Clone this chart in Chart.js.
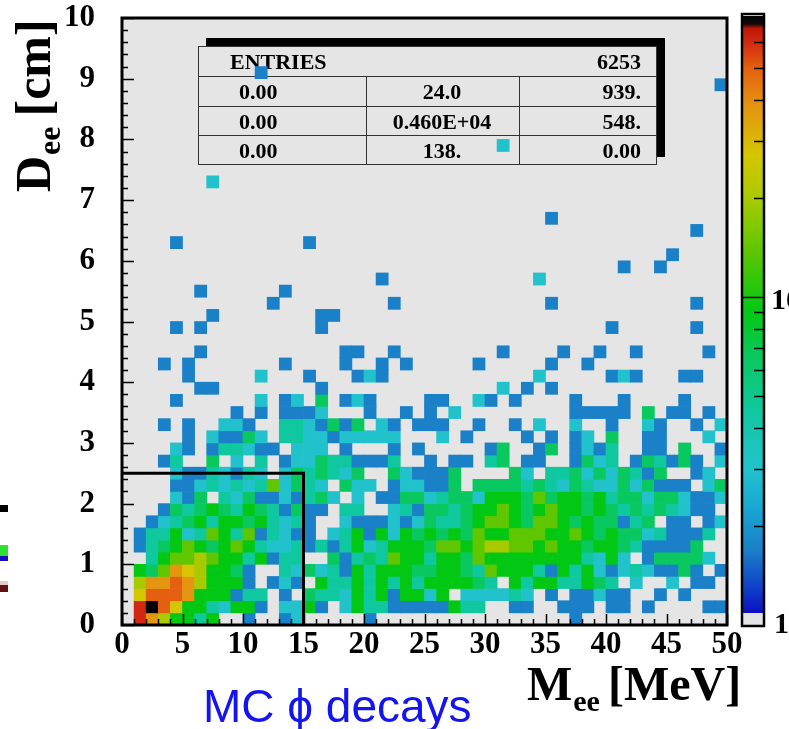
<!DOCTYPE html>
<html>
<head>
<meta charset="utf-8">
<script src="https://cdn.jsdelivr.net/npm/chart.js@4.4.1/dist/chart.umd.min.js"></script>
<style>html,body{margin:0;padding:0;background:#fff;overflow:hidden}</style>
</head>
<body>
<canvas id="c" width="789" height="729"></canvas>
<script>
// ---------------- DATA ----------------
// M_ee bin centres (MeV), 1 MeV bins
const massBins = [0.5,1.5,2.5,3.5,4.5,5.5,6.5,7.5,8.5,9.5,10.5,11.5,12.5,13.5,14.5,15.5,16.5,17.5,18.5,19.5,
  20.5,21.5,22.5,23.5,24.5,25.5,26.5,27.5,28.5,29.5,30.5,31.5,32.5,33.5,34.5,35.5,36.5,37.5,38.5,39.5,
  40.5,41.5,42.5,43.5,44.5,45.5,46.5,47.5,48.5,49.5];
// D_ee bin centres (cm), 0.2 cm bins
const distBins = [0.1,0.3,0.5,0.7,0.9,1.1,1.3,1.5,1.7,1.9,2.1,2.3,2.5,2.7,2.9,3.1,3.3,3.5,3.7,3.9,
  4.1,4.3,4.5,4.7,4.9,5.1,5.3,5.5,5.7,5.9,6.1,6.3,6.5,6.7,6.9,7.1,7.3,7.5,7.7,7.9,
  8.1,8.3,8.5,8.7,8.9,9.1,9.3,9.5,9.7,9.9];
const xTickValues = [0,5,10,15,20,25,30,35,40,45,50];
const xTickLabels = ["0","5","10","15","20","25","30","35","40","45","50"];
const yTickValues = [0,1,2,3,4,5,6,7,8,9,10];
const yTickLabels = ["0","1","2","3","4","5","6","7","8","9","10"];
const zRange = [1, 72];            // colour (z) axis, log scale
const zTickLabels = ["1","10"];
const cutBox = [15, 2.5];          // selection: M_ee < 15 MeV, D_ee < 2.5 cm
const statsRows = [
  ["ENTRIES", "", "6253"],
  ["0.00", "24.0", "939."],
  ["0.00", "0.460E+04", "548."],
  ["0.00", "138.", "0.00"]
];
// cell contents, one row per D_ee bin (bottom first), 50 M_ee bins per row
const counts = [
[0,60,38,20,9,9,4.5,9,0,0, 1.7,0,0,1.7,3,0,0,0,0,0, 1.7,0,0,0,0,0,0,0,0,0, 0,0,0,0,0,0,0,1.7,0,0, 0,0,0,0,0,0,0,0,0,0],
[0,60,72,50,27,9,9,4.5,3,9, 9,1.7,0,3,3,9,1.7,0,3,9, 4.5,4.5,1.7,1.7,1.7,1.7,1.7,9,4.5,4.5, 0,0,1.7,1.7,0,0,1.7,1.7,1.7,0, 1.7,1.7,0,1.7,0,0,0,0,1.7,1.7],
[0,27,50,50,50,38,9,9,9,1.7, 4.5,4.5,0,1.7,0,6.5,4.5,4.5,3,9, 4.5,9,1.7,9,9,3,9,0,3,3, 3,3,4.5,3,0,1.7,0,1.7,1.7,3, 1.7,1.7,0,0,1.7,0,1.7,0,0,0],
[0,20,38,38,50,38,20,9,9,9, 1.7,0,1.7,3,1.7,0,9,4.5,4.5,9, 4.5,9,4.5,9,4.5,9,9,9,9,6.5, 4.5,0,9,4.5,9,9,4.5,4.5,9,6.5, 4.5,0,3,0,0,3,0,1.7,1.7,0],
[0,9,6.5,14,38,27,20,9,9,6.5, 1.7,0,0,4.5,3,6.5,3,4.5,1.7,9, 4.5,9,9,9,6.5,6.5,9,9,6.5,4.5, 14,9,9,9,4.5,1.7,9,4.5,9,3, 1.7,3,4.5,3,1.7,1.7,6.5,1.7,0,1.7],
[0,0,4.5,9,14,14,20,14,9,9, 4.5,9,1.7,4.5,4.5,0,0,6.5,1.7,4.5, 6.5,4.5,14,9,9,4.5,9,9,6.5,14, 9,9,9,9,9,9,9,9,4.5,3, 9,3,0,1.7,6.5,6.5,6.5,6.5,3,0],
[0,1.7,4.5,6.5,9,14,9,6.5,9,14, 9,4.5,3,3,4.5,1.7,4.5,1.7,4.5,9, 3,4.5,9,9,9,6.5,14,14,9,14, 20,20,14,14,9,14,9,9,6.5,9, 9,6.5,4.5,1.7,1.7,1.7,1.7,6.5,0,0],
[0,1.7,4.5,4.5,9,3,4.5,14,9,4.5, 14,1.7,4.5,3,1.7,1.7,0,3,4.5,9, 1.7,9,3,9,6.5,9,6.5,9,6.5,14, 9,9,14,14,14,9,9,14,9,6.5, 9,6.5,6.5,3,4.5,1.7,1.7,1.7,4.5,0],
[0,0,1.7,3,4.5,6.5,9,4.5,9,9, 6.5,9,4.5,3,4.5,1.7,0,0,3,1.7, 1.7,1.7,3,1.7,3,6.5,4.5,4.5,6.5,9, 14,14,9,6.5,14,14,9,6.5,9,6.5, 6.5,1.7,4.5,6.5,0,1.7,1.7,0,1.7,3],
[0,0,0,1.7,6.5,4.5,6.5,9,6.5,4.5, 9,6.5,4.5,1.7,6.5,1.7,1.7,0,4.5,4.5, 0,0,3,4.5,1.7,6.5,6.5,4.5,6.5,9, 9,14,9,6.5,9,14,9,9,6.5,9, 6.5,4.5,6.5,4.5,6.5,4.5,3,1.7,1.7,0],
[0,0,0,0,3,1.7,6.5,0,4.5,3, 6.5,1.7,1.7,3,1.7,4.5,6.5,3,0,3, 0,1.7,1.7,6.5,6.5,3,4.5,6.5,6.5,3, 9,9,9,6.5,14,6.5,9,9,6.5,9, 4.5,6.5,6.5,3,6.5,6.5,3,1.7,1.7,3],
[0,0,0,0,1.7,1.7,3,4.5,3,4.5, 3,4.5,14,3,6.5,4.5,3,0,6.5,3, 3,0,1.7,3,3,1.7,1.7,6.5,0,6.5, 6.5,6.5,6.5,4.5,6.5,4.5,3,6.5,4.5,3, 3,6.5,3,6.5,1.7,1.7,1.7,0,3,6.5],
[0,0,0,0,3,1.7,1.7,4.5,3,1.7, 4.5,3,0,3,6.5,4.5,6.5,4.5,3,6.5, 0,0,6.5,3,1.7,1.7,1.7,6.5,0,0, 0,0,6.5,3,0,4.5,4.5,6.5,3,6.5, 3,6.5,4.5,1.7,6.5,0,0,1.7,3,0],
[0,0,0,1.7,4.5,0,0,6.5,0,3, 0,4.5,0,1.7,3,3,6.5,4.5,4.5,1.7, 1.7,1.7,4.5,0,0,1.7,0,1.7,1.7,0, 4.5,6.5,0,1.7,1.7,0,0,1.7,6.5,3, 4.5,0,1.7,6.5,4.5,1.7,6.5,1.7,0,3],
[0,0,0,0,3,1.7,0,1.7,4.5,4.5, 3,1.7,1.7,0,3,3,3,0,1.7,0, 0,0,1.7,0,1.7,0,0,0,0,0, 1.7,6.5,0,0,1.7,6.5,0,1.7,3,1.7, 4.5,0,0,1.7,1.7,0,6.5,0,0,1.7],
[0,0,0,0,0,1.7,0,3,1.7,1.7, 6.5,3,0,4.5,4.5,3,3,1.7,3,3, 3,3,3,0,0,0,3,0,1.7,0, 0,0,0,1.7,0,1.7,0,1.7,3,0, 6.5,0,0,1.7,1.7,0,0,0,3,0],
[0,0,0,1.7,0,1.7,0,0,3,3, 1.7,0,0,4.5,4.5,3,1.7,6.5,1.7,6.5, 0,3,1.7,0,1.7,1.7,1.7,0,0,1.7, 0,0,1.7,0,3,0,0,3,0,0, 1.7,0,0,3,1.7,0,0,1.7,0,3],
[0,0,0,0,0,0,0,0,0,1.7, 0,1.7,0,1.7,1.7,1.7,3,0,0,0, 1.7,0,0,1.7,0,1.7,0,3,0,0, 0,0,0,0,0,0,0,1.7,1.7,1.7, 1.7,1.7,0,6.5,0,1.7,1.7,0,1.7,0],
[0,0,0,0,1.7,0,0,0,0,0, 0,3,0,1.7,3,0,6.5,0,1.7,3, 1.7,0,0,0,0,1.7,1.7,0,0,3, 1.7,0,1.7,0,0,0,0,1.7,0,0, 0,1.7,0,0,0,0,1.7,0,0,0],
[0,0,0,0,0,0,1.7,1.7,0,0, 0,0,0,0,0,0,1.7,0,0,0, 0,0,0,0,0,0,0,0,0,0, 0,3,0,1.7,0,1.7,0,0,0,0, 0,0,0,0,0,0,0,0,0,0],
[0,0,0,0,0,1.7,0,0,0,0, 0,3,0,0,0,1.7,0,0,0,1.7, 3,1.7,0,0,0,0,0,0,0,0, 0,0,0,0,3,0,0,0,0,0, 1.7,3,1.7,0,0,0,1.7,1.7,0,0],
[0,0,0,1.7,0,1.7,0,0,0,0, 0,0,0,1.7,0,0,0,0,1.7,0, 0,1.7,0,1.7,0,0,0,0,0,1.7, 0,0,0,0,0,1.7,0,0,1.7,0, 0,0,0,0,0,0,0,0,0,0],
[0,0,0,0,0,0,1.7,0,0,0, 0,0,0,0,0,0,0,0,1.7,1.7, 0,0,1.7,0,0,0,0,0,0,0, 0,1.7,0,0,0,0,1.7,0,0,1.7, 0,0,1.7,0,0,0,0,0,1.7,0],
[0,0,0,0,0,0,0,0,0,0, 0,0,0,0,0,0,0,0,0,0, 0,0,0,0,0,0,0,0,0,0, 0,0,0,0,0,0,0,0,0,0, 0,0,0,0,0,0,0,0,0,0],
[0,0,0,0,1.7,0,1.7,0,0,0, 0,0,0,0,0,0,1.7,0,0,0, 0,0,0,0,0,0,0,0,0,0, 0,0,0,0,0,0,0,0,0,0, 1.7,0,0,0,0,0,0,1.7,0,0],
[0,0,0,0,0,0,0,1.7,0,0, 0,0,0,0,0,0,1.7,1.7,0,0, 0,0,0,0,0,0,0,0,0,0, 0,0,0,0,0,0,0,0,0,0, 0,0,0,0,0,0,0,0,0,0],
[0,0,0,0,0,0,0,0,0,0, 0,0,1.7,0,0,0,0,0,0,0, 0,0,1.7,0,0,0,0,0,0,0, 0,0,0,0,0,1.7,0,0,0,0, 0,0,0,0,0,0,0,1.7,0,0],
[0,0,0,0,0,0,1.7,0,0,0, 0,0,0,1.7,0,0,0,0,0,0, 0,0,0,0,0,0,0,0,0,0, 0,0,0,0,0,0,0,0,0,0, 0,0,0,0,0,0,0,0,0,0],
[0,0,0,0,0,0,0,0,0,0, 0,0,0,0,0,0,0,0,0,0, 0,1.7,0,0,0,0,0,0,0,0, 0,0,0,0,3,0,0,0,0,0, 0,0,0,0,0,0,0,0,0,0],
[0,0,0,0,0,0,0,0,0,0, 0,0,0,0,0,0,0,0,0,0, 0,0,0,0,0,0,0,0,0,0, 0,0,0,0,0,0,0,0,0,0, 0,1.7,0,0,1.7,0,0,0,0,0],
[0,0,0,0,0,0,0,0,0,0, 0,0,0,0,0,0,0,0,0,0, 0,0,0,0,0,0,0,0,0,0, 0,0,0,0,0,0,0,0,0,0, 0,0,0,0,0,1.7,0,0,0,0],
[0,0,0,0,1.7,0,0,0,0,0, 0,0,0,0,0,1.7,0,0,0,0, 0,0,0,0,0,0,0,0,0,0, 0,0,0,0,0,0,0,0,0,0, 0,0,0,0,0,0,0,0,0,0],
[0,0,0,0,0,0,0,0,0,0, 0,0,0,0,0,0,0,0,0,0, 0,0,0,0,0,0,0,0,0,0, 0,0,0,0,0,0,0,0,0,0, 0,0,0,0,0,0,0,1.7,0,0],
[0,0,0,0,0,0,0,0,0,0, 0,0,0,0,0,0,0,0,0,0, 0,0,0,0,0,0,0,0,0,0, 0,0,0,0,0,1.7,0,0,0,0, 0,0,0,0,0,0,0,0,0,0],
[0,0,0,0,0,0,0,0,0,0, 0,0,0,0,0,0,0,0,0,0, 0,0,0,0,0,0,0,0,0,0, 0,0,0,0,0,0,0,0,0,0, 0,0,0,0,0,0,0,0,0,0],
[0,0,0,0,0,0,0,0,0,0, 0,0,0,0,0,0,0,0,0,0, 0,0,0,0,0,0,0,0,0,0, 0,0,0,0,0,0,0,0,0,0, 0,0,0,0,0,0,0,0,0,0],
[0,0,0,0,0,0,0,3,0,0, 0,0,0,0,0,0,0,0,0,0, 0,0,0,0,0,0,0,0,0,0, 0,0,0,0,0,0,0,0,0,0, 0,0,0,0,0,0,0,0,0,0],
[0,0,0,0,0,0,0,0,0,0, 0,0,0,0,0,0,0,0,0,0, 0,0,0,0,0,0,0,0,0,0, 0,0,0,0,0,0,0,0,0,0, 0,0,0,0,0,0,0,0,0,0],
[0,0,0,0,0,0,0,0,0,0, 0,0,0,0,0,0,0,0,0,0, 0,0,0,0,0,0,0,0,0,0, 0,0,0,0,0,0,0,0,0,0, 0,0,0,0,0,0,0,0,0,0],
[0,0,0,0,0,0,0,0,0,0, 0,0,0,0,0,0,0,0,0,0, 0,0,0,0,0,0,0,0,0,0, 0,3,0,0,0,0,0,0,0,0, 0,0,0,0,0,0,0,0,0,0],
[0,0,0,0,0,0,0,0,0,0, 0,0,0,0,0,0,0,0,0,0, 0,0,0,0,0,0,0,0,0,0, 0,0,0,0,0,0,0,0,0,0, 0,0,0,0,0,0,0,0,0,0],
[0,0,0,0,0,0,0,0,0,0, 0,0,0,0,0,0,0,0,0,0, 0,0,0,0,0,0,0,0,0,0, 0,0,0,0,0,0,0,0,0,0, 0,0,0,0,0,0,0,0,0,0],
[0,0,0,0,0,0,0,0,0,0, 0,0,0,0,0,0,0,0,0,0, 0,0,0,0,0,0,0,0,0,0, 0,0,0,0,0,0,0,0,0,0, 0,0,0,0,0,0,0,0,0,0],
[0,0,0,0,0,0,0,0,0,0, 0,0,0,0,0,0,0,0,0,0, 0,0,0,0,0,0,0,0,0,0, 0,0,0,0,0,0,0,0,0,0, 0,0,0,0,0,0,0,0,0,0],
[0,0,0,0,0,0,0,0,0,0, 0,0,0,0,0,0,0,0,0,0, 0,0,0,0,0,0,0,0,0,0, 0,0,0,0,0,0,0,0,0,0, 0,0,0,0,0,0,0,0,0,1.7],
[0,0,0,0,0,0,0,0,0,0, 0,1.7,0,0,0,0,0,0,0,0, 0,0,0,0,0,0,0,0,0,0, 0,0,0,0,0,0,0,0,0,0, 0,0,0,0,0,0,0,0,0,0],
[0,0,0,0,0,0,0,0,0,0, 0,0,0,0,0,0,0,0,0,0, 0,0,0,0,0,0,0,0,0,0, 0,0,0,0,0,0,0,0,0,0, 0,0,0,0,0,0,0,0,0,0],
[0,0,0,0,0,0,0,0,0,0, 0,0,0,0,0,0,0,0,0,0, 0,0,0,0,0,0,0,0,0,0, 0,0,0,0,0,0,0,0,0,0, 0,0,0,0,0,0,0,0,0,0],
[0,0,0,0,0,0,0,0,0,0, 0,0,0,0,0,0,0,0,0,0, 0,0,0,0,0,0,0,0,0,0, 0,0,0,0,0,0,0,0,0,0, 0,0,0,0,0,0,0,0,0,0],
[0,0,0,0,0,0,0,0,0,0, 0,0,0,0,0,0,0,0,0,0, 0,0,0,0,0,0,0,0,0,0, 0,0,0,0,0,0,0,0,0,0, 0,0,0,0,0,0,0,0,0,0]
];

// ---------------- STYLE ----------------
const SERIF = '"Liberation Serif","Times New Roman",serif';
const SANS = '"Liberation Sans",Arial,sans-serif';
const PLOT_BG = '#e5e5e5';
const PLOT_BOX = { left: 122, top: 18, right: 727, bottom: 625 };
const paletteStops = [
  [1.0,[228,228,228]],[1.085,[228,228,228]],[1.09,[12,16,192]],[1.3,[16,64,200]],
  [1.7,[26,128,200]],[2.3,[24,168,210]],[3.0,[34,194,204]],[4.5,[16,200,160]],
  [6.5,[10,200,96]],[9,[2,200,20]],[14,[96,198,0]],[20,[170,202,0]],[27,[212,198,0]],
  [38,[228,150,16]],[50,[228,96,16]],[60,[210,40,16]],[66,[190,24,8]],[68,[20,10,10]],[72,[0,0,0]]
];
function colorFor(v) {
  const s = paletteStops;
  if (v <= s[0][0]) return 'rgb(' + s[0][1].join(',') + ')';
  if (v >= s[s.length-1][0]) return 'rgb(' + s[s.length-1][1].join(',') + ')';
  const lv = Math.log10(v);
  for (let i = 0; i < s.length - 1; i++) {
    if (v >= s[i][0] && v <= s[i+1][0]) {
      const a = Math.log10(s[i][0]), b = Math.log10(s[i+1][0]);
      const t = b > a ? (lv - a) / (b - a) : 0;
      const c = s[i][1].map((q, k) => Math.round(q + (s[i+1][1][k] - q) * t));
      return 'rgb(' + c.join(',') + ')';
    }
  }
  return '#000';
}

const points = [];
counts.forEach((row, j) => row.forEach((v, i) => {
  if (v > 0) points.push({ x: massBins[i], y: distBins[j], v: v });
}));

function cellRadius(chart) {
  const xs = chart.scales.x;
  if (!xs) return 8;
  const w = Math.abs(xs.getPixelForValue(1) - xs.getPixelForValue(0));
  return (w / 2 + 0.35) * Math.SQRT2;
}

function drawSub(ctx, x, y, parts) {
  let cx = x;
  parts.forEach(p => {
    ctx.font = 'bold ' + p[1] + 'px ' + SERIF;
    ctx.fillText(p[0], cx, y + p[2]);
    cx += ctx.measureText(p[0]).width + (p[3] || 0);
  });
}

const decor = {
  id: 'decor',
  beforeDraw(chart) {
    const { ctx, chartArea: a } = chart;
    ctx.save();
    ctx.fillStyle = '#ffffff';
    ctx.fillRect(0, 0, chart.width, chart.height);
    ctx.fillStyle = PLOT_BG;
    ctx.fillRect(a.left, a.top, a.right - a.left, a.bottom - a.top);
    ctx.restore();
  },
  beforeDatasetsDraw(chart) {
    const ctx = chart.ctx;
    ctx.save();
    const L = 198, T = 46, R = 656, B = 164;
    ctx.fillStyle = '#000';
    ctx.fillRect(206, 38, 665 - 206, 157 - 38);
    ctx.fillStyle = PLOT_BG;
    ctx.fillRect(L, T, R - L, B - T);
    ctx.strokeStyle = '#333';
    ctx.lineWidth = 1;
    ctx.strokeRect(L + 0.5, T + 0.5, R - L, B - T);
    const rowY = [T, 76, 106, 135, B];
    ctx.beginPath();
    for (let k = 1; k < 4; k++) { ctx.moveTo(L, rowY[k] + 0.5); ctx.lineTo(R, rowY[k] + 0.5); }
    ctx.moveTo(366.5, 76); ctx.lineTo(366.5, B);
    ctx.moveTo(519.5, 76); ctx.lineTo(519.5, B);
    ctx.stroke();
    ctx.fillStyle = '#000';
    ctx.font = 'bold 22px ' + SERIF;
    ctx.textBaseline = 'alphabetic';
    statsRows.forEach((r, k) => {
      const by = (rowY[k] + rowY[k+1]) / 2 + 8;
      ctx.textAlign = 'left';
      ctx.fillText(r[0], k === 0 ? 230 : 239, by);
      ctx.textAlign = 'center';
      if (r[1]) ctx.fillText(r[1], 442, by);
      ctx.textAlign = 'right';
      ctx.fillText(r[2], 641, by);
    });
    ctx.restore();
  },
  afterDatasetsDraw(chart) {
    const { ctx, chartArea: a, scales: { x, y } } = chart;
    ctx.save();
    ctx.strokeStyle = '#000';
    ctx.lineWidth = 3;
    ctx.beginPath();
    ctx.moveTo(x.getPixelForValue(0), y.getPixelForValue(cutBox[1]));
    ctx.lineTo(x.getPixelForValue(cutBox[0]), y.getPixelForValue(cutBox[1]));
    ctx.lineTo(x.getPixelForValue(cutBox[0]), y.getPixelForValue(0));
    ctx.stroke();
    ctx.lineWidth = 1.5;
    ctx.beginPath();
    for (let k = 0; k <= 50; k++) {
      const py = Math.round(y.getPixelForValue(k * 0.2)) + 0.5;
      const len = (k % 5 === 0) ? 12 : 6;
      ctx.moveTo(a.left, py); ctx.lineTo(a.left + len, py);
      const px = Math.round(x.getPixelForValue(k)) + 0.5;
      const lx = (k % 5 === 0) ? 11 : 6;
      ctx.moveTo(px, a.bottom); ctx.lineTo(px, a.bottom - lx);
    }
    ctx.stroke();
    ctx.lineWidth = 3;
    ctx.strokeRect(a.left, a.top, a.right - a.left, a.bottom - a.top);
    ctx.restore();
  },
  afterDraw(chart) {
    const ctx = chart.ctx;
    ctx.save();
    ctx.fillStyle = '#000';
    ctx.textAlign = 'left';
    ctx.textBaseline = 'alphabetic';
    ctx.save();
    ctx.translate(50, 192);
    ctx.rotate(-Math.PI / 2);
    drawSub(ctx, 0, 0, [["D", 50, 0, 1], ["ee", 32, 10, 10], ["[cm]", 50, 0]]);
    ctx.restore();
    drawSub(ctx, 527, 700, [["M", 48, 0, 1], ["ee", 30, 11, 8], ["[MeV]", 48, 0]]);
    ctx.fillStyle = '#1414f0';
    ctx.font = '46px ' + SANS;
    ctx.fillText('MC \u03D5 decays', 203, 722);
    // colour bar
    const bx = 743, bw = 20, bTop = 16, bBot = 625;
    const dec = (bBot - bTop) / Math.log10(zRange[1] / zRange[0]);
    for (let py = bTop; py < bBot; py++) {
      const v = zRange[0] * Math.pow(10, (bBot - py - 0.5) / dec);
      ctx.fillStyle = colorFor(v);
      ctx.fillRect(bx, py, bw, 1);
    }
    ctx.strokeStyle = '#000';
    ctx.lineWidth = 1.5;
    ctx.beginPath();
    [2,3,4,5,6,7,8,9,20,30,40,50,60].forEach(v => {
      const py = Math.round(bBot - Math.log10(v / zRange[0]) * dec) + 0.5;
      ctx.moveTo(bx + bw, py); ctx.lineTo(bx + bw - 9, py);
    });
    const p10 = Math.round(bBot - dec) + 0.5;
    ctx.moveTo(bx + bw, p10); ctx.lineTo(bx, p10);
    ctx.stroke();
    ctx.lineWidth = 2.5;
    ctx.strokeRect(bx - 1, bTop - 2, bw + 2, bBot - bTop + 3);
    ctx.fillStyle = '#000';
    ctx.font = 'bold 30px ' + SERIF;
    ctx.textBaseline = 'middle';
    ctx.fillText(zTickLabels[0], 774, bBot);
    ctx.fillText(zTickLabels[1], 771, bBot - dec + 4);
    // fragments at the left border of the original figure
    ctx.fillStyle = '#000'; ctx.fillRect(0, 505, 8, 7);
    ctx.fillStyle = '#30e030'; ctx.fillRect(0, 545, 8, 11);
    ctx.fillStyle = '#1010c0'; ctx.fillRect(0, 556, 8, 5);
    ctx.fillStyle = '#e8c8c8'; ctx.fillRect(0, 581, 8, 4);
    ctx.fillStyle = '#601010'; ctx.fillRect(0, 585, 8, 7);
    ctx.restore();
  }
};

// pin the plot area to the original frame position
const pinArea = {
  id: 'pinArea',
  afterLayout(chart) {
    const a = chart.chartArea;
    const dt = PLOT_BOX.top - a.top;
    if (Math.abs(dt) > 0.5 && !chart.$pinned) {
      chart.$pinned = true;
      chart.options.layout.padding.top = Math.max(0, chart.options.layout.padding.top + dt);
      chart.update('none');
    }
  }
};

const tickFont = { family: SERIF, weight: 'bold', size: 31 };
new Chart(document.getElementById('c'), {
  type: 'scatter',
  data: {
    datasets: [{
      data: points,
      pointStyle: 'rect',
      pointRadius: c => cellRadius(c.chart),
      pointHoverRadius: c => cellRadius(c.chart),
      backgroundColor: c => (c.raw ? colorFor(c.raw.v) : '#000'),
      borderWidth: 0,
      clip: false
    }]
  },
  options: {
    responsive: false,
    animation: false,
    devicePixelRatio: 1,
    events: [],
    layout: { padding: { left: 0, top: 0, right: 62, bottom: 0 } },
    plugins: { legend: { display: false }, tooltip: { enabled: false } },
    scales: {
      x: {
        type: 'linear', min: 0, max: 50,
        afterBuildTicks: s => { s.ticks = xTickValues.map(v => ({ value: v })); },
        ticks: { font: tickFont, color: '#000', padding: 1, maxRotation: 0, autoSkip: false,
                 callback: (v) => xTickLabels[xTickValues.indexOf(v)] },
        grid: { display: false, drawTicks: false },
        border: { display: false },
        afterFit: s => { s.height = 104; s.paddingLeft = 0; s.paddingRight = 0; }
      },
      y: {
        type: 'linear', min: 0, max: 10,
        afterBuildTicks: s => { s.ticks = yTickValues.map(v => ({ value: v })); },
        ticks: { font: tickFont, color: '#000', padding: 27, autoSkip: false,
                 callback: (v) => yTickLabels[yTickValues.indexOf(v)] },
        grid: { display: false, drawTicks: false },
        border: { display: false },
        afterFit: s => { s.width = 122; s.paddingTop = 0; s.paddingBottom = 0; }
      }
    }
  },
  plugins: [decor, pinArea]
});
</script>
</body>
</html>
